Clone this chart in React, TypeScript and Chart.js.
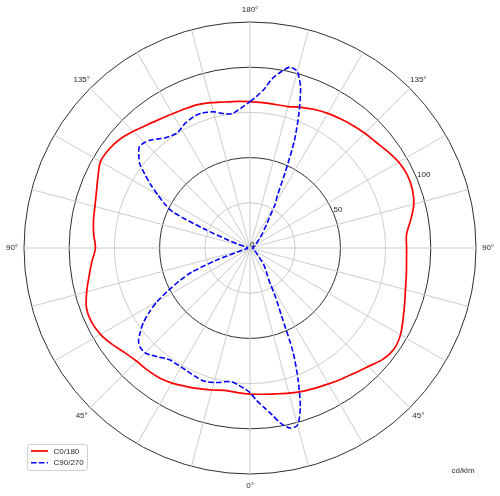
import React, { useEffect, useRef } from 'react';
import { Chart, registerables } from 'chart.js';

Chart.register(...registerables);

// Gamma angles (degrees, 0 = nadir / bottom, 180 = zenith / top)
const RED_GAMMA = [
  0, 5, 10, 15, 20, 25, 30, 35, 40, 45, 50, 55, 60, 65, 70, 75, 80, 85, 90,
  95, 100, 105, 110, 115, 120, 125, 130, 135, 140, 145, 150, 155, 160, 165, 170, 175, 180,
];
// C0 plane (right half) and C180 plane (left half), cd/klm
const RED_C0 = [
  80.8, 81.2, 81.9, 83.1, 84.4, 85.5, 86.8, 88.4, 90.2, 92.6, 95.8, 97.3, 96.1, 93.4, 91.0, 89.0, 87.8, 86.9, 86.6,
  86.9, 90.3, 93.8, 95.5, 95.9, 95.0, 93.0, 91.0, 89.8, 88.5, 87.2, 86.0, 84.5, 82.8, 81.0, 80.6, 80.7, 81.0,
];
const RED_C180 = [
  80.8, 80.3, 80.0, 81.3, 82.8, 84.4, 86.3, 87.6, 88.2, 88.6, 90.2, 93.0, 95.5, 96.8, 96.3, 93.5, 90.4, 87.8, 85.5,
  86.8, 87.9, 88.8, 90.4, 92.8, 95.5, 95.2, 93.8, 91.3, 88.8, 87.0, 85.7, 85.0, 84.4, 83.2, 82.0, 81.4, 81.0,
];

const BLUE_GAMMA = [
  0, 2.5, 5, 7.5, 10, 12.5, 15, 17.5, 20, 22.5, 25, 27.5, 30, 32.5, 35, 37.5, 40, 42.5, 45, 47.5,
  50, 52.5, 55, 57.5, 60, 62.5, 65, 67.5, 70, 72.5, 75, 77.5, 80, 82.5, 85, 87.5, 90, 92.5, 95, 97.5,
  100, 102.5, 105, 107.5, 110, 112.5, 115, 117.5, 120, 122.5, 125, 127.5, 130, 132.5, 135, 137.5, 140, 142.5, 145, 147.5,
  150, 152.5, 155, 157.5, 160, 162.5, 165, 167.5, 170, 172.5, 175, 177.5, 180,
];
// C90 plane (right half) and C270 plane (left half), cd/klm
const BLUE_C90 = [
  80, 84.5, 88.5, 93, 98.5, 102, 101.5, 92.5, 78, 62, 41, 30.5, 21.5, 18, 15.5, 13.5, 11.5, 9, 7, 6,
  5, 4.5, 4, 3.5, 3, 3, 2.5, 2.5, 2, 2, 2, 1.5, 1.5, 1.5, 1.5, 1.5, 1.5, 1.5, 1.5, 1.5,
  1.5, 2, 2, 2, 2.5, 2.5, 3, 3, 3.5, 4, 4.5, 5, 5.5, 6.5, 7.5, 9, 11, 13, 16, 20,
  27.5, 33, 46, 64, 79, 93, 101, 102.5, 99, 94.5, 88, 84, 81,
];
const BLUE_C270 = [
  80, 77.7, 76, 74.8, 75, 76.2, 77, 77.7, 77.8, 77.3, 76.8, 76.3, 76.1, 76, 76, 77, 78.7, 80.5, 82, 82,
  80.5, 76.5, 72, 66, 59.5, 51, 43, 35, 20, 7, 3, 2, 1.5, 1.5, 1.5, 1.5, 1.5, 1.5, 1.5, 1.5,
  1.5, 2, 3, 6, 13, 27, 47, 53.5, 59, 65, 71, 77, 80.3, 83, 82.5, 81, 78.8, 76.8, 75.8, 75.3,
  76.3, 77.7, 78.5, 79.2, 79.2, 78.7, 78, 76.5, 75.3, 75, 76.5, 78.5, 81,
];

const ANGLE_LABELS = ['180°', '135°', '90°', '45°', '0°', '45°', '90°', '135°'];
const R_LABELS = [0, 50, 100];
const SERIES_NAMES = ['C0/180', 'C90/270'];
const UNIT_LABEL = 'cd/klm';

const STEP = 2.5; // radar category step in degrees (clockwise from top)
const N = 144;

function buildSeries(gamma: number[], right: number[], left: number[]) {
  const out: (number | null)[] = [];
  for (let i = 0; i < N; i++) {
    const p = i * STEP;
    let g: number;
    let arr: number[];
    if (p <= 180) {
      g = 180 - p;
      arr = right;
    } else {
      g = p - 180;
      arr = left;
    }
    const k = gamma.indexOf(g);
    out.push(k >= 0 ? arr[k] : null);
  }
  return out;
}

const FONT = '8px "Liberation Sans", Arial, sans-serif';
const TEXT = '#2a2a2a';

const overlayPlugin = {
  id: 'overlay',
  afterDraw(chart: any) {
    const s = chart.scales.r;
    const ctx = chart.ctx as CanvasRenderingContext2D;
    ctx.save();
    ctx.font = FONT;
    ctx.fillStyle = TEXT;
    // angle labels
    ctx.textAlign = 'center';
    ctx.textBaseline = 'middle';
    const R = s.drawingArea + 12;
    ANGLE_LABELS.forEach((lab, k) => {
      const a = (k * 45 * Math.PI) / 180;
      ctx.fillText(lab, s.xCenter + R * Math.sin(a), s.yCenter - R * Math.cos(a));
    });
    // radial tick labels along 67.5° ray
    const ra = (67.5 * Math.PI) / 180;
    ctx.textAlign = 'left';
    ctx.textBaseline = 'alphabetic';
    R_LABELS.forEach((v) => {
      const d = s.getDistanceFromCenterForValue(v);
      ctx.fillText(String(v), s.xCenter + d * Math.sin(ra), s.yCenter - d * Math.cos(ra) - 1.5);
    });
    // unit label
    ctx.textAlign = 'center';
    ctx.textBaseline = 'middle';
    ctx.fillText(UNIT_LABEL, 463, 471);

    // legend
    const bx = 27.5, by = 444.5, bw = 60, bh = 26;
    ctx.fillStyle = 'rgba(255,255,255,0.85)';
    ctx.strokeStyle = '#d0d0d0';
    ctx.lineWidth = 1;
    ctx.beginPath();
    (ctx as any).roundRect ? (ctx as any).roundRect(bx, by, bw, bh, 2) : ctx.rect(bx, by, bw, bh);
    ctx.fill();
    ctx.stroke();
    chart.data.datasets.forEach((ds: any, k: number) => {
      const y = 451 + k * 11.7;
      ctx.strokeStyle = ds.borderColor;
      ctx.lineWidth = ds.borderWidth;
      ctx.setLineDash(ds.borderDash || []);
      ctx.beginPath();
      ctx.moveTo(31, y);
      ctx.lineTo(48, y);
      ctx.stroke();
      ctx.setLineDash([]);
      ctx.fillStyle = TEXT;
      ctx.textAlign = 'left';
      ctx.textBaseline = 'middle';
      ctx.fillText(ds.label, 53.5, y + 0.5);
    });
    ctx.restore();
  },
};

export default function App() {
  const ref = useRef<HTMLCanvasElement | null>(null);
  useEffect(() => {
    if (!ref.current) return;
    const labels = Array.from({ length: N }, (_, i) => String(i * STEP));
    const chart = new Chart(ref.current, {
      type: 'radar',
      data: {
        labels,
        datasets: [
          {
            label: SERIES_NAMES[0],
            data: buildSeries(RED_GAMMA, RED_C0, RED_C180),
            borderColor: '#ff0000',
            borderWidth: 1.7,
            borderDash: [],
            pointRadius: 0,
            fill: false,
            tension: 0.3,
            spanGaps: true,
            order: 1,
          },
          {
            label: SERIES_NAMES[1],
            data: buildSeries(BLUE_GAMMA, BLUE_C90, BLUE_C270),
            borderColor: '#0000ff',
            borderWidth: 1.6,
            borderDash: [5.5, 2.4],
            pointRadius: 0,
            fill: false,
            tension: 0.25,
            spanGaps: true,
            order: 0,
          },
        ],
      },
      options: {
        responsive: false,
        animation: false,
        devicePixelRatio: 1,
        layout: { padding: { left: 24, right: 24, top: 22, bottom: 22 } },
        plugins: { legend: { display: false }, tooltip: { enabled: false }, title: { display: false } },
        scales: {
          r: {
            min: 0,
            max: 125,
            startAngle: 0,
            ticks: { display: false, stepSize: 25 },
            pointLabels: { display: false },
            grid: {
              circular: true,
              color: (c: any) => (c.tick && c.tick.value % 50 === 0) || (c.tick && c.tick.value === 125) ? '#2e2e2e' : '#cccccc',
              lineWidth: 1,
            },
            angleLines: {
              display: true,
              color: (c: any) => (c.index % 6 === 0 ? '#cccccc' : 'rgba(0,0,0,0)'),
              lineWidth: (c: any) => (c.index % 6 === 0 ? 1 : 0),
            },
          },
        },
      } as any,
      plugins: [overlayPlugin],
    });
    return () => chart.destroy();
  }, []);
  return (
    <div style={{ position: 'fixed', left: 0, top: 0, width: 500, height: 496, background: '#fff' }}>
      <canvas ref={ref} width={500} height={496} style={{ display: 'block', width: 500, height: 496 }} />
    </div>
  );
}
